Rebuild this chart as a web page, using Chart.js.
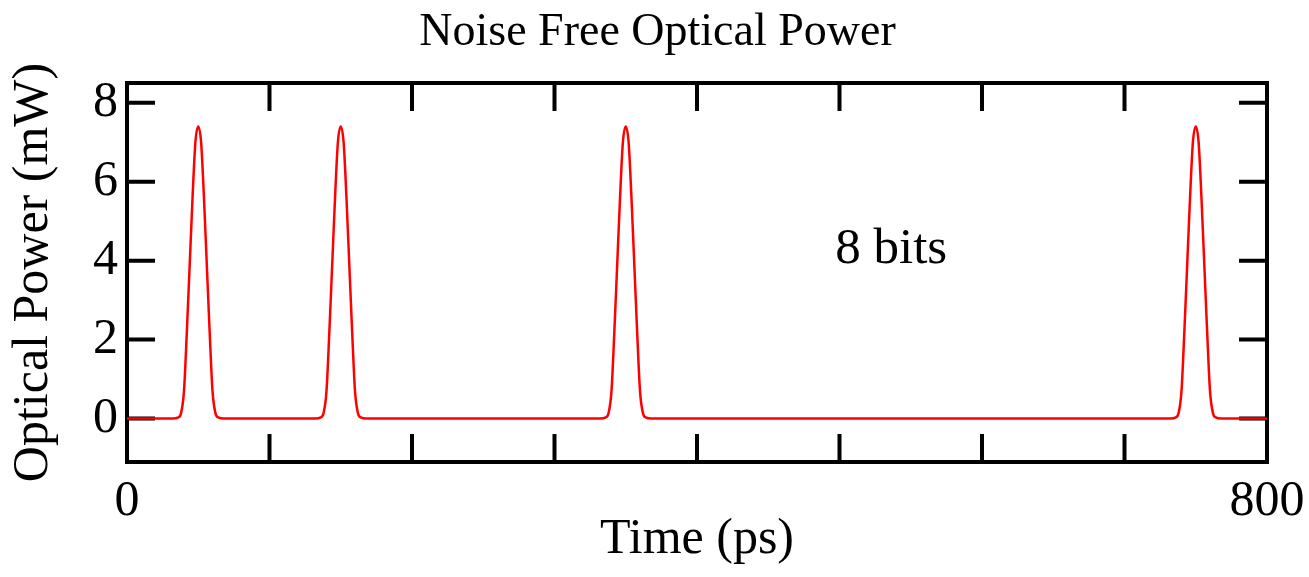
<!DOCTYPE html>
<html>
<head>
<meta charset="utf-8">
<script src="https://cdn.jsdelivr.net/npm/chart.js@4/dist/chart.umd.min.js"></script>
<style>
  html, body { margin: 0; padding: 0; background: #fff; }
  canvas { display: block; }
</style>
</head>
<body>
<canvas id="chart" width="1309" height="577"></canvas>
<script>
// pulse centres (ps) and the shape of one pulse
const pulseCenters = [50, 150, 350, 750];
const pulseOffsets = [-18, -14, -12, -10, -8, -6, -4, -2, 0, 2, 4, 6, 8, 10, 12, 14, 18];
const pulseShape   = [0, 0.03, 0.15, 0.7, 2.2, 3.9, 5.6, 7.0, 7.4, 7.0, 5.6, 3.9, 2.2, 0.7, 0.15, 0.03, 0];
const timeRange = [0, 800];
const xTicks = [0, 100, 200, 300, 400, 500, 600, 700, 800];
const xTickLabels = ['0', '', '', '', '', '', '', '', '800'];
const yTicks = [0, 2, 4, 6, 8];
const yRange = [-1.1, 8.5];
const chartTitle = 'Noise Free Optical Power';
const note = { text: '8 bits', x: 497, y: 3.95 };

const serif = "'Liberation Serif', 'Times New Roman', serif";

const points = [{ x: timeRange[0], y: 0 }];
pulseCenters.forEach(c => {
    pulseOffsets.forEach((o, i) => points.push({ x: c + o, y: pulseShape[i] }));
});
points.push({ x: timeRange[1], y: 0 });

const frame = {
    id: 'frame',
    beforeDatasetsDraw(chart) {
        const { ctx, chartArea: a, scales: { x, y } } = chart;
        const len = 28;
        ctx.save();
        ctx.strokeStyle = '#000';
        ctx.lineWidth = 4;
        ctx.lineCap = 'butt';
        ctx.beginPath();
        xTicks.forEach(v => {
            const px = x.getPixelForValue(v);
            ctx.moveTo(px, a.bottom); ctx.lineTo(px, a.bottom - len);
            ctx.moveTo(px, a.top); ctx.lineTo(px, a.top + len);
        });
        yTicks.forEach(v => {
            const py = y.getPixelForValue(v);
            ctx.moveTo(a.left, py); ctx.lineTo(a.left + len, py);
            ctx.moveTo(a.right, py); ctx.lineTo(a.right - len, py);
        });
        ctx.stroke();
        ctx.lineJoin = 'miter';
        ctx.strokeRect(a.left, a.top, a.right - a.left, a.bottom - a.top);
        ctx.restore();
    },
    afterDatasetsDraw(chart) {
        const { ctx, width, scales: { x, y } } = chart;
        ctx.save();
        ctx.fillStyle = '#000';
        ctx.textBaseline = 'alphabetic';
        ctx.font = '51px ' + serif;
        ctx.textAlign = 'left';
        ctx.fillText(note.text, x.getPixelForValue(note.x), y.getPixelForValue(note.y));
        ctx.font = '46px ' + serif;
        ctx.textAlign = 'center';
        ctx.fillText(chartTitle, width / 2 + 3, 45);
        ctx.restore();
    }
};

new Chart(document.getElementById('chart'), {
    type: 'line',
    data: {
        datasets: [{
            data: points,
            borderColor: '#ff0000',
            borderWidth: 2.5,
            pointRadius: 0,
            cubicInterpolationMode: 'monotone',
            fill: false
        }]
    },
    options: {
        responsive: false,
        animation: false,
        layout: { padding: { left: 0, right: 42, top: 83, bottom: 0 }, autoPadding: false },
        plugins: {
            legend: { display: false },
            tooltip: { enabled: false },
            title: { display: false }
        },
        scales: {
            x: {
                type: 'linear',
                min: timeRange[0],
                max: timeRange[1],
                afterBuildTicks: s => { s.ticks = xTicks.map(v => ({ value: v })); },
                afterFit: s => { s.height = 115; s.paddingLeft = 0; s.paddingRight = 0; },
                grid: { display: false, drawTicks: false },
                border: { display: false },
                ticks: {
                    color: '#000',
                    maxRotation: 0,
                    autoSkip: false,
                    padding: 10,
                    font: { family: serif, size: 50 },
                    callback: (v, i) => xTickLabels[i]
                },
                title: {
                    display: true,
                    text: 'Time (ps)',
                    color: '#000',
                    font: { family: serif, size: 50, lineHeight: 1.2 },
                    padding: { top: 0, bottom: 7 }
                }
            },
            y: {
                min: yRange[0],
                max: yRange[1],
                afterBuildTicks: s => { s.ticks = yTicks.map(v => ({ value: v })); },
                afterFit: s => { s.width = 127; s.paddingTop = 0; s.paddingBottom = 0; },
                grid: { display: false, drawTicks: false },
                border: { display: false },
                ticks: {
                    color: '#000',
                    padding: 9,
                    font: { family: serif, size: 50 }
                },
                title: {
                    display: true,
                    text: 'Optical Power (mW)',
                    color: '#000',
                    font: { family: serif, size: 50, lineHeight: 1.2 },
                    padding: { top: 4, bottom: 0 }
                }
            }
        }
    },
    plugins: [frame]
});
</script>
</body>
</html>
